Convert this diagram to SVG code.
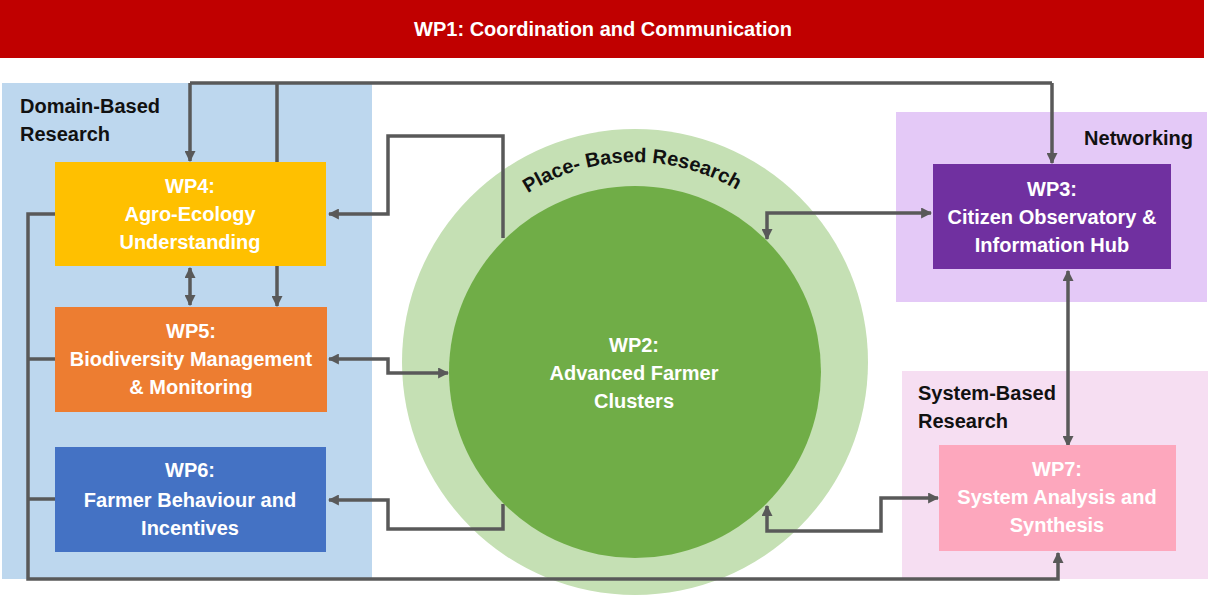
<svg xmlns="http://www.w3.org/2000/svg" width="1208" height="604" viewBox="0 0 1208 604">
  <style>
    .lbl { font-family: "Liberation Sans", Arial, sans-serif; font-weight: bold; font-size: 20px; fill: #ffffff; text-anchor: middle; }
    .area { font-family: "Liberation Sans", Arial, sans-serif; font-weight: bold; font-size: 20px; fill: #111111; }
    .wire { fill: none; stroke: #595959; stroke-width: 3.5; stroke-linejoin: miter; }
  </style>
  <defs>
    <marker id="arrow" viewBox="0 0 10 10" refX="9" refY="5" markerWidth="11" markerHeight="11" markerUnits="userSpaceOnUse" orient="auto-start-reverse">
      <path d="M0 0 L10 5 L0 10 Z" fill="#595959"/>
    </marker>
    <path id="placeArc" d="M 435 362 A 200 200 0 0 1 835 362"/>
  </defs>

  <rect width="1208" height="604" fill="#ffffff"/>

  <!-- WP1 banner -->
  <g id="wp1">
    <rect x="0" y="0" width="1204" height="58" fill="#C00000"/>
    <text class="lbl" x="603" y="36">WP1: Coordination and Communication</text>
  </g>

  <!-- Background areas -->
  <g id="area-domain">
    <rect x="2" y="83" width="370" height="496" fill="#BDD7EE"/>
    <text class="area" x="20" y="113">Domain-Based</text>
    <text class="area" x="20" y="141">Research</text>
  </g>
  <g id="area-networking">
    <rect x="896" y="112" width="311" height="190" fill="#E4C9F7"/>
    <text class="area" x="1193" y="145" text-anchor="end">Networking</text>
  </g>
  <g id="area-system">
    <rect x="902" y="371" width="306" height="208" fill="#F6DEF2"/>
    <text class="area" x="918" y="400">System-Based</text>
    <text class="area" x="918" y="428">Research</text>
  </g>
  <g id="area-place">
    <circle cx="635" cy="362" r="233" fill="#C5E0B4"/>
    <text class="area" font-size="19"><textPath href="#placeArc" startOffset="49.5%" text-anchor="middle">Place- Based Research</textPath></text>
  </g>

  <!-- Connectors -->
  <g id="connectors">
    <!-- shared line along the top -->
    <path class="wire" d="M190 83 L1052 83"/>
    <path class="wire" d="M190 83 L190 161" marker-end="url(#arrow)"/>
    <path class="wire" d="M1052 83 L1052 163" marker-end="url(#arrow)"/>
    <path class="wire" d="M277 83 L277 306" marker-end="url(#arrow)"/>
    <!-- WP4 <-> WP5 -->
    <path class="wire" d="M190 268 L190 305" marker-start="url(#arrow)" marker-end="url(#arrow)"/>
    <!-- WP2 -> WP4 -->
    <path class="wire" d="M503 238 L503 136 L388 136 L388 214 L329 214" marker-end="url(#arrow)"/>
    <!-- WP5 <-> WP2 -->
    <path class="wire" d="M329 359 L388 359 L388 373 L448 373" marker-start="url(#arrow)" marker-end="url(#arrow)"/>
    <!-- WP2 -> WP6 -->
    <path class="wire" d="M503 504 L503 529 L388 529 L388 500 L329 500" marker-end="url(#arrow)"/>
    <!-- WP2 <-> WP3 -->
    <path class="wire" d="M767 239 L767 213 L931 213" marker-start="url(#arrow)" marker-end="url(#arrow)"/>
    <!-- WP3 <-> WP7 -->
    <path class="wire" d="M1068 271 L1068 446" marker-start="url(#arrow)" marker-end="url(#arrow)"/>
    <!-- WP2 <-> WP7 -->
    <path class="wire" d="M767 506 L767 531 L881 531 L881 498 L938 498" marker-start="url(#arrow)" marker-end="url(#arrow)"/>
    <!-- WP4/WP5/WP6 -> WP7 loop along the bottom -->
    <path class="wire" d="M55 214 L28 214 L28 579 L1058 579 L1058 553" marker-end="url(#arrow)"/>
    <path class="wire" d="M28 359 L55 359"/>
    <path class="wire" d="M28 499 L55 499"/>
  </g>

  <!-- WP2 inner circle -->
  <g id="wp2">
    <circle cx="635" cy="372" r="186" fill="#70AD47"/>
    <text class="lbl" x="634" y="352">WP2:</text>
    <text class="lbl" x="634" y="380">Advanced Farmer</text>
    <text class="lbl" x="634" y="408">Clusters</text>
  </g>

  <g id="wp4">
    <rect x="55" y="162" width="271" height="104" fill="#FFC000"/>
    <text class="lbl" x="190" y="193">WP4:</text>
    <text class="lbl" x="190" y="221">Agro-Ecology</text>
    <text class="lbl" x="190" y="249">Understanding</text>
  </g>

  <g id="wp5">
    <rect x="55" y="307" width="272" height="105" fill="#ED7D31"/>
    <text class="lbl" x="191" y="338">WP5:</text>
    <text class="lbl" x="191" y="366">Biodiversity Management</text>
    <text class="lbl" x="191" y="394">&amp; Monitoring</text>
  </g>

  <g id="wp6">
    <rect x="55" y="447" width="271" height="105" fill="#4472C4"/>
    <text class="lbl" x="190" y="477">WP6:</text>
    <text class="lbl" x="190" y="507">Farmer Behaviour and</text>
    <text class="lbl" x="190" y="535">Incentives</text>
  </g>

  <g id="wp3">
    <rect x="933" y="164" width="238" height="105" fill="#7030A0"/>
    <text class="lbl" x="1052" y="196">WP3:</text>
    <text class="lbl" x="1052" y="224">Citizen Observatory &amp;</text>
    <text class="lbl" x="1052" y="252">Information Hub</text>
  </g>

  <g id="wp7">
    <rect x="939" y="445" width="237" height="106" fill="#FDA7BD"/>
    <text class="lbl" x="1057" y="476">WP7:</text>
    <text class="lbl" x="1057" y="504">System Analysis and</text>
    <text class="lbl" x="1057" y="532">Synthesis</text>
  </g>
</svg>
